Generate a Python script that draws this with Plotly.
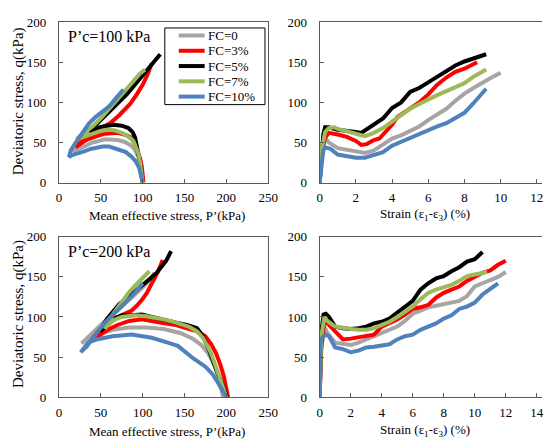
import plotly.graph_objects as go

# ---------------- data ----------------
fc_labels = ["FC=0", "FC=3%", "FC=5%", "FC=7%", "FC=10%"]

# P'c = 100 kPa : stress paths (p', q)
p100_fc0 = [100, 99, 97, 94, 90, 85, 78, 70, 62, 55, 48, 40, 32, 25, 20, 17, 20, 26, 34, 42, 50, 60, 70, 80, 90, 98, 103]
q100_fc0 = [0, 12, 25, 34, 42, 47, 51, 53, 54, 54, 52, 50, 46, 43, 40, 38, 44, 52, 62, 71, 80, 92, 104, 114, 124, 132, 137]
p100_fc3 = [101, 100.5, 99, 97, 94, 90, 85, 78, 70, 62, 55, 48, 40, 34, 28, 22, 20, 28, 38, 50, 61, 72, 85, 93, 100, 106, 111]
q100_fc3 = [0, 10, 20, 30, 40, 50, 57, 60, 62, 62, 61, 59, 56, 54, 50, 46, 44, 52, 60, 68, 74, 84, 98, 110, 122, 135, 149]
p100_fc5 = [100, 99, 98, 96, 94, 92, 91, 88, 83, 75, 65, 58, 50, 44, 38, 36, 40, 46, 54, 62, 72, 81, 90, 100, 110, 116, 121]
q100_fc5 = [0, 10, 20, 30, 40, 48, 56, 63, 68, 71, 72, 71, 70, 68, 65, 64, 67, 74, 82, 90, 100, 110, 121, 134, 147, 154, 160]
p100_fc7 = [100, 99, 97, 95, 92, 89, 82, 75, 67, 60, 52, 44, 36, 28, 21, 25, 30, 40, 50, 60, 70, 80, 90, 97, 103]
q100_fc7 = [0, 12, 24, 36, 46, 52, 58, 62, 65, 66, 65, 62, 59, 56, 54, 58, 62, 70, 80, 92, 104, 116, 128, 136, 141]
p100_fc10 = [100, 98, 96, 92, 87, 80, 70, 60, 52, 45, 38, 30, 22, 15, 12, 14, 20, 28, 36, 44, 52, 60, 68, 77]
q100_fc10 = [0, 10, 18, 26, 32, 38, 42, 45, 45, 44, 42, 39, 37, 34, 32, 40, 50, 62, 74, 82, 88, 95, 105, 116]

# P'c = 100 kPa : strain curves (strain %, q)
e100_fc0 = [0, 0.1, 0.3, 0.5, 1, 1.5, 2, 2.5, 3, 3.5, 4, 4.5, 5, 5.5, 6, 6.5, 7, 7.5, 8, 8.5, 9, 9.5, 10]
s100_fc0 = [0, 35, 56, 50, 43, 41, 38, 37, 40, 48, 55, 59, 65, 70, 78, 85, 92, 102, 111, 118, 125, 131, 137]
e100_fc3 = [0, 0.1, 0.3, 0.5, 1, 1.5, 2, 2.3, 2.6, 3, 3.3, 3.6, 4, 4.3, 5, 5.5, 6, 6.5, 7, 7.5, 8, 8.7]
s100_fc3 = [0, 35, 56, 62, 60, 57, 52, 47, 48, 53, 55, 62, 72, 82, 93, 100, 110, 122, 131, 138, 142, 150]
e100_fc5 = [0, 0.1, 0.2, 0.3, 0.5, 1, 1.5, 2, 2.3, 2.5, 3, 3.5, 4, 4.5, 5, 5.5, 6, 6.5, 7, 7.5, 8, 8.5, 9.2]
s100_fc5 = [0, 30, 60, 69, 69, 66, 65, 63, 62, 65, 72, 80, 93, 100, 113, 118, 125, 132, 140, 146, 151, 155, 160]
e100_fc7 = [0, 0.1, 0.3, 0.5, 0.8, 1, 1.5, 2, 2.5, 3, 3.5, 4, 4.5, 5, 5.5, 6, 6.5, 7, 7.5, 8, 8.5, 9.2]
s100_fc7 = [0, 40, 63, 68, 69, 67, 64, 61, 58, 62, 68, 76, 84, 92, 98, 104, 109, 114, 119, 124, 132, 141]
e100_fc10 = [0, 0.1, 0.2, 0.3, 0.6, 1, 1.5, 2, 2.5, 3, 3.5, 4, 4.5, 5, 5.5, 6, 6.5, 7, 7.5, 8, 8.5, 9.2]
s100_fc10 = [0, 20, 40, 44, 42, 35, 33, 31, 31, 35, 38, 46, 51, 55, 60, 65, 70, 74, 80, 87, 99, 117]

# P'c = 200 kPa : stress paths (p', q)
p200_fc0 = [196, 192, 186, 178, 170, 160, 145, 125, 105, 85, 65, 50, 38, 30, 27, 32, 42, 55, 70, 85, 100, 110, 114]
q200_fc0 = [0, 20, 40, 55, 65, 73, 80, 85, 87, 87, 84, 80, 74, 70, 67, 72, 82, 95, 108, 122, 137, 148, 155]
p200_fc3 = [202, 200, 197, 193, 188, 182, 175, 165, 153, 140, 126, 112, 99, 84, 70, 60, 50, 42, 38, 43, 49, 57, 66, 76, 87, 93, 99, 105, 111, 118, 124]
q200_fc3 = [0, 12, 26, 40, 54, 66, 76, 82, 86, 90, 92, 95, 97, 95, 90, 85, 78, 73, 70, 77, 84, 92, 98, 103, 108, 114, 121, 130, 141, 156, 171]
p200_fc5 = [201, 197, 193, 189, 185, 181, 177, 172, 165, 153, 140, 126, 112, 99, 86, 76, 68, 60, 52, 49, 53, 57, 64, 72, 82, 91, 100, 110, 116, 122, 128, 134]
q200_fc5 = [0, 10, 20, 32, 42, 54, 64, 76, 86, 90, 93, 96, 99, 103, 102, 102, 99, 92, 86, 82, 90, 97, 106, 116, 124, 132, 140, 148, 154, 162, 170, 182]
p200_fc7 = [200, 196, 191, 187, 182, 177, 172, 165, 155, 140, 125, 105, 90, 75, 65, 58, 55, 58, 62, 68, 75, 83, 90, 99, 108]
q200_fc7 = [0, 12, 26, 40, 54, 64, 74, 82, 88, 93, 97, 101, 102, 100, 96, 90, 85, 94, 100, 108, 118, 130, 138, 148, 157]
p200_fc10 = [200, 195, 190, 184, 175, 161, 142, 130, 111, 87, 64, 45, 35, 29, 26, 28, 33, 39, 45, 56, 64, 72, 80, 87, 94, 100]
q200_fc10 = [0, 10, 18, 28, 38, 48, 64, 68, 74, 78, 76, 72, 68, 60, 56, 58, 63, 72, 80, 94, 102, 110, 118, 126, 134, 142]

# P'c = 200 kPa : strain curves (strain %, q)
e200_fc0 = [0, 0.1, 0.3, 0.5, 1, 1.5, 2, 2.5, 3, 3.5, 4, 4.5, 5, 5.5, 6, 6.5, 7, 7.5, 8, 8.5, 9, 9.5, 10, 10.5, 11, 11.5, 12]
s200_fc0 = [0, 60, 88, 80, 68, 66, 65, 68, 72, 75, 80, 84, 88, 95, 104, 108, 112, 114, 116, 118, 120, 126, 138, 142, 146, 150, 156]
e200_fc3 = [0, 0.1, 0.3, 0.5, 1, 1.5, 2, 2.5, 3, 3.5, 4, 4.5, 5, 5.5, 6, 6.5, 7, 7.5, 8, 8.5, 9, 9.5, 10, 10.5, 11, 11.5, 12]
s200_fc3 = [0, 60, 95, 92, 82, 72, 73, 75, 76, 78, 88, 92, 97, 103, 110, 112, 115, 124, 130, 134, 138, 145, 150, 155, 158, 165, 170]
e200_fc5 = [0, 0.1, 0.25, 0.4, 0.6, 1, 1.5, 2, 2.5, 3, 3.5, 4, 4.5, 5, 5.5, 6, 6.5, 7, 7.5, 8, 8.5, 9, 9.5, 10, 10.5]
s200_fc5 = [0, 80, 103, 104, 100, 88, 86, 85, 86, 88, 92, 94, 98, 105, 112, 120, 134, 142, 148, 151, 157, 162, 169, 172, 181]
e200_fc7 = [0, 0.1, 0.3, 0.5, 1, 1.5, 2, 2.5, 3, 3.5, 4, 4.5, 5, 5.5, 6, 6.5, 7, 7.5, 8, 8.5, 9, 9.5, 10, 10.8]
s200_fc7 = [0, 75, 100, 95, 88, 86, 85, 84, 84, 86, 90, 94, 100, 106, 113, 122, 130, 134, 137, 140, 145, 151, 153, 156]
e200_fc10 = [0, 0.05, 0.2, 0.4, 0.6, 1, 1.5, 2, 2.5, 3, 3.5, 4, 4.5, 5, 5.5, 6, 6.5, 7, 7.5, 8, 8.5, 9, 9.5, 10, 10.5, 11, 11.5]
s200_fc10 = [0, 70, 75, 78, 76, 62, 60, 56, 58, 62, 63, 64, 66, 72, 76, 78, 84, 88, 92, 98, 102, 110, 113, 118, 128, 135, 142]

# ---------------- styling ----------------
colors = ["#A5A5A5", "#FF0000", "#000000", "#9BBB59", "#4F81BD"]
FONT = "Liberation Serif, Times New Roman, serif"
W, H = 552, 448

paths100 = [(p100_fc0, q100_fc0), (p100_fc3, q100_fc3), (p100_fc5, q100_fc5), (p100_fc7, q100_fc7), (p100_fc10, q100_fc10)]
strain100 = [(e100_fc0, s100_fc0), (e100_fc3, s100_fc3), (e100_fc5, s100_fc5), (e100_fc7, s100_fc7), (e100_fc10, s100_fc10)]
paths200 = [(p200_fc0, q200_fc0), (p200_fc3, q200_fc3), (p200_fc5, q200_fc5), (p200_fc7, q200_fc7), (p200_fc10, q200_fc10)]
strain200 = [(e200_fc0, s200_fc0), (e200_fc3, s200_fc3), (e200_fc5, s200_fc5), (e200_fc7, s200_fc7), (e200_fc10, s200_fc10)]

fig = go.Figure()
panels = [(paths100, "x", "y"), (strain100, "x2", "y2"),
          (paths200, "x3", "y3"), (strain200, "x4", "y4")]
for data, xa, ya in panels:
    for i, (xs, ys) in enumerate(data):
        fig.add_trace(go.Scatter(
            x=xs, y=ys, mode="lines", name=fc_labels[i], legendgroup=fc_labels[i],
            showlegend=False, xaxis=xa, yaxis=ya,
            line=dict(color=colors[i], width=4, shape="linear")))

def px_x(v):
    return v / W

def px_y(v):
    return 1 - v / H

axis_common = dict(showline=True, linecolor="#595959", linewidth=1, ticks="inside",
                   ticklen=4, tickcolor="#595959", showgrid=False, zeroline=False,
                   tickfont=dict(family=FONT, size=13, color="black"))

# pixel geometry
L0, L1 = 57.3, 271.6
R0 = 324.3
T_top, T_bot = 15.7, 181.7
B_top, B_bot = 237.7, 403.7
r_top_max = 12 + (W - 546.7) / ((546.7 - R0) / 12)
r_bot_max = 14 + (W - 546.7) / ((546.7 - R0) / 14)

fig.update_layout(
    xaxis=dict(axis_common, domain=[px_x(L0), px_x(L1)], range=[0, 250], dtick=50, anchor="y", mirror=True, ticklabelstandoff=3),
    yaxis=dict(axis_common, domain=[px_y(T_bot), px_y(T_top)], range=[0, 200], dtick=50, anchor="x", mirror=True, ticklabelstandoff=9),
    xaxis2=dict(axis_common, domain=[px_x(R0), 1], range=[0, r_top_max], tickvals=[0, 2, 4, 6, 8, 10, 12], anchor="y2", mirror=True, ticklabelstandoff=3),
    yaxis2=dict(axis_common, domain=[px_y(T_bot), px_y(T_top)], range=[0, 200], dtick=50, anchor="x2", mirror=False, ticklabelstandoff=9),
    xaxis3=dict(axis_common, domain=[px_x(L0), px_x(L1)], range=[0, 250], dtick=50, anchor="y3", mirror=True, ticklabelstandoff=3),
    yaxis3=dict(axis_common, domain=[px_y(B_bot), px_y(B_top)], range=[0, 200], dtick=50, anchor="x3", mirror=True, ticklabelstandoff=9),
    xaxis4=dict(axis_common, domain=[px_x(R0), 1], range=[0, r_bot_max], tickvals=[0, 2, 4, 6, 8, 10, 12, 14], anchor="y4", mirror=True, ticklabelstandoff=3),
    yaxis4=dict(axis_common, domain=[px_y(B_bot), px_y(B_top)], range=[0, 200], dtick=50, anchor="x4", mirror=False, ticklabelstandoff=9),
    width=W, height=H,
    margin=dict(l=0, r=0, t=0, b=0),
    paper_bgcolor="white", plot_bgcolor="white",
    font=dict(family=FONT, size=13, color="black"),
    showlegend=False,
)

ann = []
shapes = []
def text(x, y, s, size=13, angle=0, xanchor="center"):
    ann.append(dict(x=px_x(x), y=px_y(y), xref="paper", yref="paper", text=s,
                    showarrow=False, textangle=angle, xanchor=xanchor, yanchor="middle",
                    font=dict(family=FONT, size=size, color="black")))

# legend box (compact, as in the reference)
LG_X0, LG_X1, LG_Y0, LG_Y1 = 165.7, 268.3, 21.7, 101.0
shapes.append(dict(type="rect", xref="paper", yref="paper",
                   x0=px_x(LG_X0), x1=px_x(LG_X1), y0=px_y(LG_Y1), y1=px_y(LG_Y0),
                   line=dict(color="black", width=1), fillcolor="white", layer="above"))
row_y = [29.5, 45.3, 61.1, 76.9, 92.7]
for i, lab in enumerate(fc_labels):
    shapes.append(dict(type="line", xref="paper", yref="paper",
                       x0=px_x(180), x1=px_x(206.5), y0=px_y(row_y[i]), y1=px_y(row_y[i]),
                       line=dict(color=colors[i], width=4), layer="above"))
    text(207.5, row_y[i], lab, size=13, xanchor="left")

text(65, 31, "P’c=100 kPa", size=16, xanchor="left")
text(65, 253, "P’c=200 kPa", size=16, xanchor="left")
text(168, 216, "Mean effective stress, P’(kPa)")
text(168, 439, "Mean effective stress, P’(kPa)")
text(432, 215, "Strain (ε<sub>1</sub>-ε<sub>3</sub>) (%)")
text(432, 438, "Strain (ε<sub>1</sub>-ε<sub>3</sub>) (%)")
text(16, 98, "Deviatoric stress, q(kPa)", size=15, angle=-90)
text(16, 318, "Deviatoric stress, q(kPa)", size=15, angle=-90)
fig.update_layout(annotations=ann, shapes=shapes)

fig.write_html("out.html", config={"displayModeBar": False},
               post_script="document.body.style.margin='0';")
